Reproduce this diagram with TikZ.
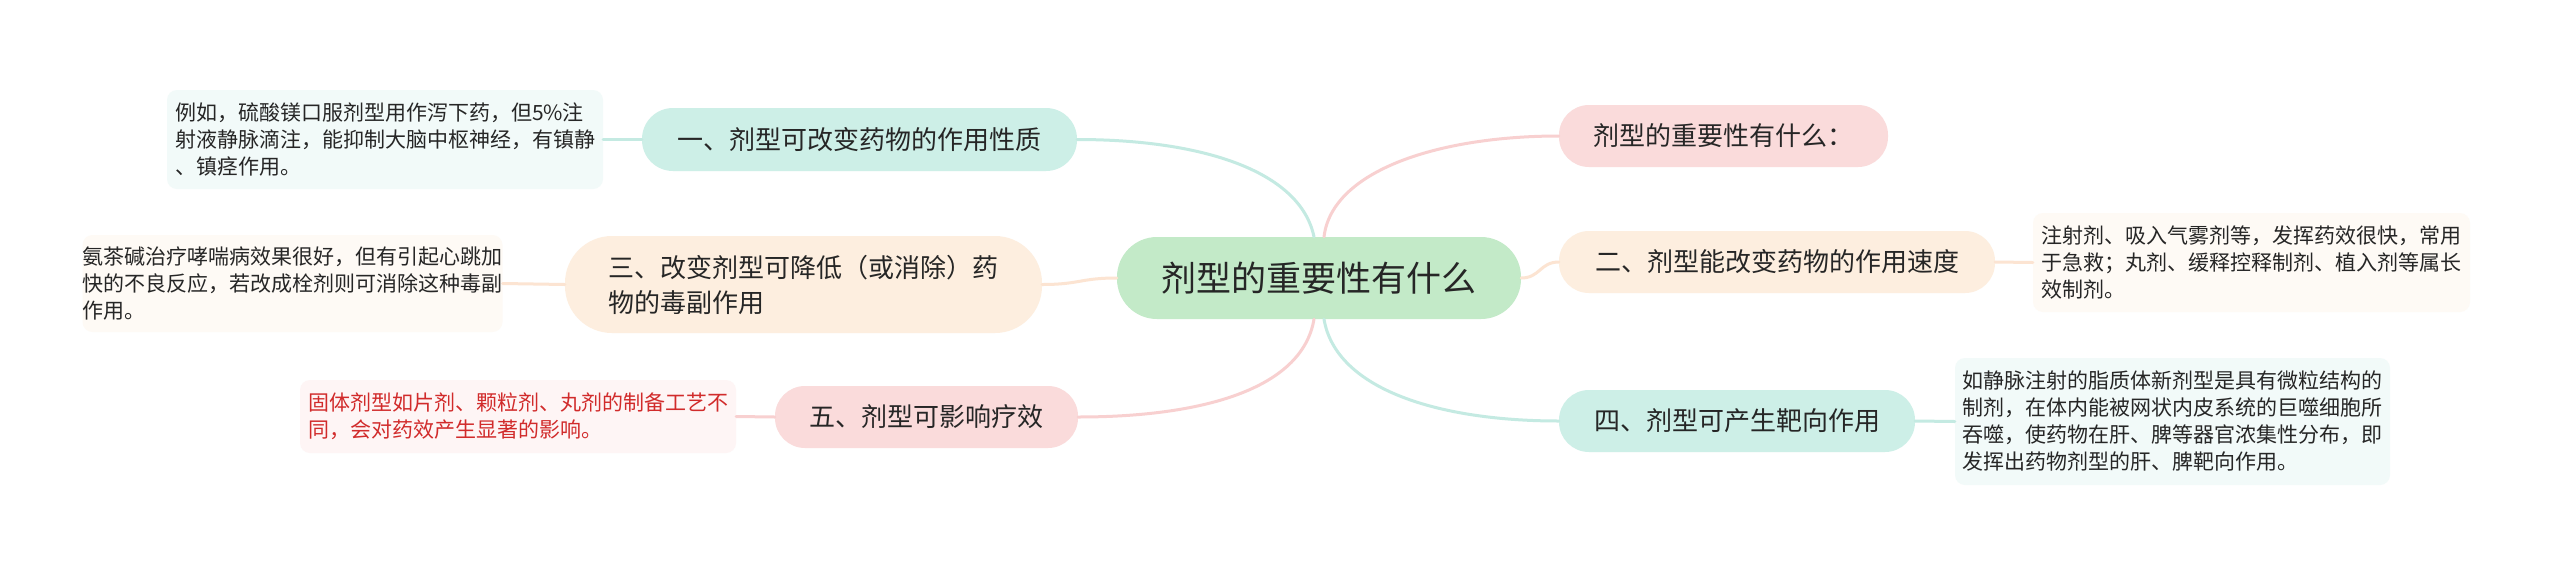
\documentclass[tikz,border=0pt]{standalone}
\usepackage{fontspec}
\setmainfont{Noto Sans CJK SC}
\definecolor{txt}{HTML}{262626}
\definecolor{redtxt}{HTML}{D12B2B}
\definecolor{cfill}{HTML}{C3EAC8}
\definecolor{tealfill}{HTML}{CDEFE7}
\definecolor{tealline}{HTML}{C4EAE2}
\definecolor{orfill}{HTML}{FDEEDF}
\definecolor{orline}{HTML}{FCE4D2}
\definecolor{pkfill}{HTML}{FADBDB}
\definecolor{pkline}{HTML}{F8D0D0}
\definecolor{tealleaf}{HTML}{F2FAF9}
\definecolor{orleaf}{HTML}{FEFAF5}
\definecolor{pkleaf}{HTML}{FEF5F5}
\tikzset{
  topic/.style={inner sep=0pt, text=txt, align=left, font=\fontsize{26}{35}\selectfont},
  leafbox/.style={inner sep=0pt, rounded corners=10pt, align=left, text=txt, font=\fontsize{21}{27}\selectfont},
  link/.style={line width=3pt, line cap=round},
}
\begin{document}
\begin{tikzpicture}[x=1pt,y=-1pt]
\fill[white] (0,0) rectangle (2560,574);
\useasboundingbox (0,0) rectangle (2560,574);

% central node
\node[topic, fill=cfill, rounded corners=40pt, minimum width=404pt, minimum height=82pt, font=\fontsize{35}{42}\selectfont] (c) at (1319,278) {剂型的重要性有什么};

% left topics
\node[topic, fill=tealfill, rounded corners=31pt, minimum width=435pt, minimum height=63pt] (n1) at (859.5,139.5) {一、剂型可改变药物的作用性质};
\node[topic, fill=orfill, rounded corners=47pt, minimum width=477pt, minimum height=97pt, xshift=0pt] (n3) at (803.5,284.5) {三、改变剂型可降低（或消除）药\\物的毒副作用};
\node[topic, fill=pkfill, rounded corners=30pt, minimum width=303pt, minimum height=62pt] (n5) at (926.5,417) {五、剂型可影响疗效};

% right topics
\node[topic, fill=pkfill, rounded corners=30pt, minimum width=329pt, minimum height=62pt] (r0) at (1723.5,136) {剂型的重要性有什么：};
\node[topic, fill=orfill, rounded corners=30pt, minimum width=436pt, minimum height=62pt] (n2) at (1777,262) {二、剂型能改变药物的作用速度};
\node[topic, fill=tealfill, rounded corners=30pt, minimum width=356pt, minimum height=62pt] (n4) at (1737,421) {四、剂型可产生靶向作用};

% leaves
\node[leafbox, fill=tealleaf, minimum width=436pt, minimum height=99pt] (l1) at (385,139.5) {例如，硫酸镁口服剂型用作泻下药，但5\%注\\射液静脉滴注，能抑制大脑中枢神经，有镇静\\、镇痉作用。};
\node[leafbox, fill=orleaf, minimum width=405pt, minimum height=97pt] (l3) at (292.5,283.5) {氨茶碱治疗哮喘病效果很好，但有引起心跳加\\快的不良反应，若改成栓剂则可消除这种毒副\\作用。};
\node[leafbox, fill=pkleaf, minimum width=436pt, minimum height=73pt, text=redtxt] (l5) at (518,416.5) {固体剂型如片剂、颗粒剂、丸剂的制备工艺不\\同，会对药效产生显著的影响。};
\node[leafbox, fill=orleaf, minimum width=437pt, minimum height=99pt] (l2) at (2251.5,262.5) {注射剂、吸入气雾剂等，发挥药效很快，常用\\于急救；丸剂、缓释控释制剂、植入剂等属长\\效制剂。};
\node[leafbox, fill=tealleaf, minimum width=435pt, minimum height=127pt] (l4) at (2172.5,421.5) {如静脉注射的脂质体新剂型是具有微粒结构的\\制剂，在体内能被网状内皮系统的巨噬细胞所\\吞噬，使药物在肝、脾等器官浓集性分布，即\\发挥出药物剂型的肝、脾靶向作用。};

% connectors from centre
\draw[link, tealline] ([xshift=-5pt]c.north) .. controls (1300,170) and (1200,139.5) .. (n1.east);
\draw[link, pkline] ([xshift=5pt]c.north) .. controls (1332,170) and (1440,136) .. (r0.west);
\draw[link, orline] (c.west) .. controls (1080,278) and (1080,284.5) .. (n3.east);
\draw[link, orline] (c.east) .. controls (1540,278) and (1540,262) .. (n2.west);
\draw[link, pkline] ([xshift=-5pt]c.south) .. controls (1302,390) and (1200,417) .. (n5.east);
\draw[link, tealline] ([xshift=5pt]c.south) .. controls (1336,390) and (1440,421) .. (n4.west);

% connectors to leaves
\draw[link, tealline] (n1.west) -- (l1.east);
\draw[link, orline] (n3.west) -- (l3.east);
\draw[link, pkline] (n5.west) -- (l5.east);
\draw[link, orline] (n2.east) -- (l2.west);
\draw[link, tealline] (n4.east) -- (l4.west);
\end{tikzpicture}
\end{document}
